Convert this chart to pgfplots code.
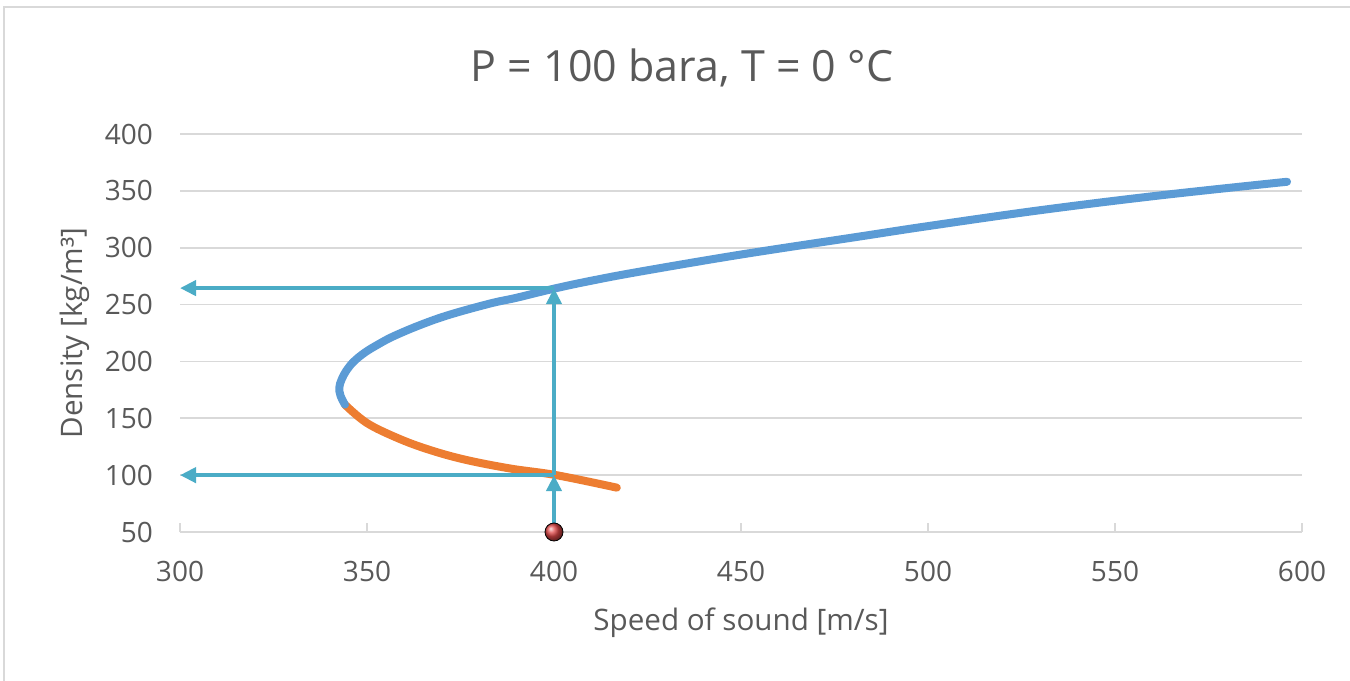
\documentclass[border=0pt]{standalone}
\usepackage{fontspec}
\setmainfont{Open Sans}
\usepackage{pgfplots}
\pgfplotsset{compat=1.18}
\usetikzlibrary{arrows.meta}
\definecolor{cblue}{HTML}{5B9BD5}
\definecolor{corange}{HTML}{ED7D31}
\definecolor{cteal}{HTML}{4BACC6}
\definecolor{cgrid}{HTML}{D9D9D9}
\definecolor{ctext}{HTML}{595959}
\definecolor{cred}{HTML}{E04848}
\begin{document}
\begin{tikzpicture}
\path[use as bounding box] (0,0) rectangle (675bp,340.5bp);
\draw[cgrid, line width=1.2bp] (2bp,-10bp) rectangle (690bp,337bp);
\node[text=ctext, font=\fontsize{21.5bp}{25bp}\selectfont] at (341bp,306.5bp) {P = 100 bara, T = 0 °C};
\begin{axis}[
  at={(90bp,74.5bp)}, anchor=south west,
  scale only axis, width=561bp, height=199bp,
  xmin=300, xmax=600, ymin=50, ymax=400,
  xtick={300,350,...,600}, ytick={50,100,...,400},
  axis line style={draw=none},
  ymajorgrids, grid style={cgrid, line width=0.8bp},
  major tick length=0pt,
  /pgf/number format/assume math mode=true,
  tick label style={text=ctext, font=\fontsize{14bp}{16bp}\selectfont},
  xticklabel style={yshift=-11bp},
  yticklabel style={xshift=-10bp},
  xlabel={Speed of sound [m/s]},
  ylabel={Density [kg/m³]},
  every axis x label/.style={at={(rel axis cs:0.5,0)}, yshift=-45.5bp, anchor=center, text=ctext, font=\fontsize{14.8bp}{17bp}\selectfont},
  every axis y label/.style={at={(rel axis cs:0,0.5)}, xshift=-52.5bp, rotate=90, anchor=center, text=ctext, font=\fontsize{14.8bp}{17bp}\selectfont},
  clip=false,
]
% x axis line with tick marks
\addplot[cgrid, line width=1bp, forget plot] coordinates {(300,50) (600,50)};
\addplot[cgrid, line width=1bp, forget plot] coordinates {(300,50) (300,58)};
\addplot[cgrid, line width=1bp, forget plot] coordinates {(350,50) (350,58)};
\addplot[cgrid, line width=1bp, forget plot] coordinates {(400,50) (400,58)};
\addplot[cgrid, line width=1bp, forget plot] coordinates {(450,50) (450,58)};
\addplot[cgrid, line width=1bp, forget plot] coordinates {(500,50) (500,58)};
\addplot[cgrid, line width=1bp, forget plot] coordinates {(550,50) (550,58)};
\addplot[cgrid, line width=1bp, forget plot] coordinates {(600,50) (600,58)};
% orange branch
\addplot[corange, line width=4bp, line cap=round, smooth, tension=0.6] coordinates {
 (344.1,162) (349.9,146) (357.9,133) (366,123) (375.7,114) (388,106) (400.6,100) (416.8,89)};
% blue branch
\addplot[cblue, line width=4bp, line cap=round, smooth, tension=0.6] coordinates {
 (344.1,162) (342.9,170) (342.6,177) (343.2,184) (344.5,192) (346.5,200) (349.5,208) (353,215)
 (357,222) (364.2,232) (372,241) (383,251) (390,256) (400,264) (410,271) (423,279)
 (450,294) (482,310) (500,319) (530,333) (562,346) (596,358)};
% arrows
\addplot[cteal, line width=2bp, -{Triangle[length=8bp,width=7.5bp]}] coordinates {(400,264.5) (300,264.5)};
\addplot[cteal, line width=2bp, -{Triangle[length=8bp,width=7.5bp]}] coordinates {(400,100) (300,100)};
\addplot[cteal, line width=2bp, -{Triangle[length=8bp,width=7.5bp]}] coordinates {(400,50) (400,100)};
\addplot[cteal, line width=2bp, -{Triangle[length=8bp,width=7.5bp]}] coordinates {(400,100) (400,264.5)};
% point
\addplot[only marks, mark=ball, mark size=4.5bp, mark options={ball color=cred, draw=none}] coordinates {(400,50)};
\end{axis}
\end{tikzpicture}
\end{document}
